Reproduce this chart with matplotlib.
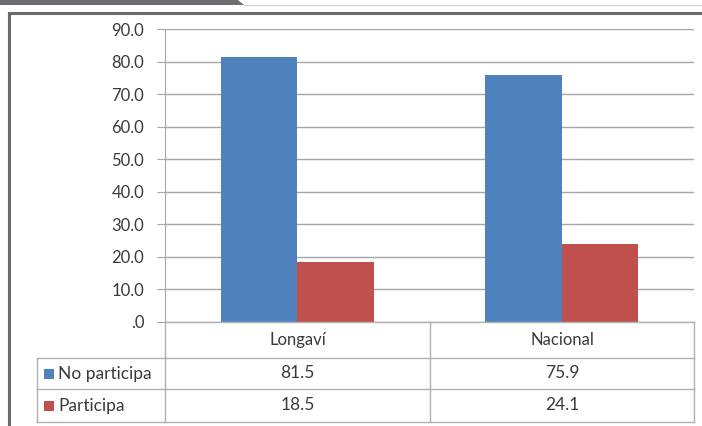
import matplotlib
matplotlib.use("Agg")
import matplotlib.pyplot as plt
import numpy as np
from matplotlib.lines import Line2D
from matplotlib.patches import Rectangle, Polygon

categorias = ["Longaví", "Nacional"]
series = ["No participa", "Participa"]
no_participa = [81.5, 75.9]
participa = [18.5, 24.1]
colores = ["#4F81BD", "#C0504D"]

plt.rcParams["font.family"] = ["Lato", "DejaVu Sans"]

W, H = 702, 426
fig = plt.figure(figsize=(W / 100, H / 100), dpi=100)

def fx(x):
    return x / W

def fy(y):
    return 1 - y / H

# cabecera y marco
fig.add_artist(Polygon([(0, fy(0)), (fx(238), fy(0)), (fx(244), fy(5)), (0, fy(5))],
                       closed=True, transform=fig.transFigure, color="#6d6e71", lw=0))
fig.add_artist(Line2D([fx(244), 1], [fy(5), fy(5)], transform=fig.transFigure,
                      color="#d0d0d0", lw=0.8))
fig.add_artist(Line2D([fx(9), 1], [fy(13), fy(13)], transform=fig.transFigure,
                      color="#6a6a6a", lw=2.2))
fig.add_artist(Line2D([fx(9), fx(9)], [fy(13), 0], transform=fig.transFigure,
                      color="#6a6a6a", lw=2.2))

# area del grafico
left, right, top, bottom = 165, 694, 29, 322
ax = fig.add_axes([fx(left), fy(bottom), fx(right - left), (bottom - top) / H])

x = np.arange(len(categorias))
ancho = 0.29
ax.bar(x - ancho / 2, no_participa, ancho, color=colores[0], zorder=3)
ax.bar(x + ancho / 2, participa, ancho, color=colores[1], zorder=3)

ax.set_xlim(-0.5, len(categorias) - 0.5)
ax.set_ylim(0, 90)
ax.set_yticks(np.arange(0, 91, 10))
ax.set_yticklabels([".0" if v == 0 else f"{v:.1f}" for v in np.arange(0, 91, 10)])
ax.set_xticks([])
ax.yaxis.grid(True, color="#a6a6a6", lw=1.0, zorder=0)
for s in ["top", "right", "bottom"]:
    ax.spines[s].set_visible(False)
ax.spines["left"].set_color("#a6a6a6")
ax.tick_params(axis="y", length=6, color="#a6a6a6", labelsize=12, labelcolor="#3a3a3a", pad=9)

# tabla de datos
col_x = [37, 165, 430, 694]
fila_y = [322, 358, 389, 422]
lc = "#b0b0b0"
for yy in fila_y[1:]:
    fig.add_artist(Line2D([fx(col_x[0]), fx(col_x[-1])], [fy(yy), fy(yy)],
                          transform=fig.transFigure, color=lc, lw=1))
fig.add_artist(Line2D([fx(col_x[1]), fx(col_x[-1])], [fy(fila_y[0]), fy(fila_y[0])],
                      transform=fig.transFigure, color=lc, lw=1))
fig.add_artist(Line2D([fx(col_x[0]), fx(col_x[0])], [fy(fila_y[1]), fy(fila_y[-1])],
                      transform=fig.transFigure, color=lc, lw=1))
for cx in col_x[1:]:
    fig.add_artist(Line2D([fx(cx), fx(cx)], [fy(fila_y[0]), fy(fila_y[-1])],
                          transform=fig.transFigure, color=lc, lw=1))

for i, c in enumerate(categorias):
    xc = (col_x[i + 1] + col_x[i + 2]) / 2
    fig.text(fx(xc), fy((fila_y[0] + fila_y[1]) / 2), c, ha="center", va="center",
             fontsize=12, color="#3a3a3a")

valores = [no_participa, participa]
for r, (nombre, vals) in enumerate(zip(series, valores)):
    yc = (fila_y[r + 1] + fila_y[r + 2]) / 2
    fig.add_artist(Rectangle((fx(44), fy(yc + 5)), fx(10), 10 / H, transform=fig.transFigure,
                             color=colores[r], lw=0))
    fig.text(fx(58), fy(yc), nombre, ha="left", va="center", fontsize=12.5, color="#3a3a3a")
    for i, v in enumerate(vals):
        xc = (col_x[i + 1] + col_x[i + 2]) / 2
        fig.text(fx(xc), fy(yc), f"{v:.1f}", ha="center", va="center", fontsize=12.5,
                 color="#3a3a3a")

fig.savefig("out.png", dpi=100)
